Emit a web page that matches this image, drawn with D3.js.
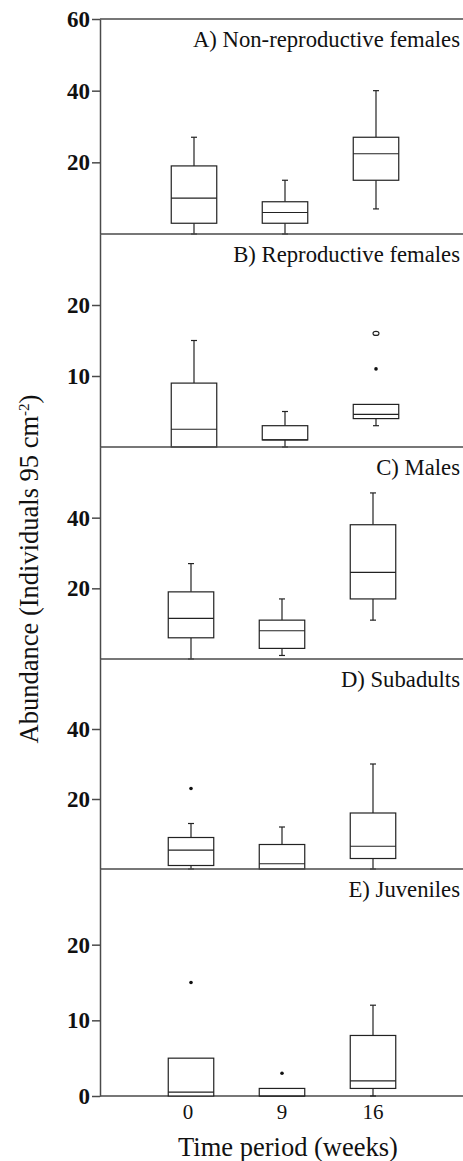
<!DOCTYPE html>
<html>
<head>
<meta charset="utf-8">
<script src="https://cdn.jsdelivr.net/npm/d3@7"></script>
<style>
  html, body { margin: 0; padding: 0; background: #fff; }
  svg { display: block; font-family: "Liberation Serif", "Times New Roman", serif; }
</style>
</head>
<body>
<svg id="chart" width="463" height="1161"></svg>
<script>
// ---------- DATA ----------
const categories = ["0", "9", "16"];
const panelTitles = [
  "A) Non-reproductive females",
  "B) Reproductive females",
  "C) Males",
  "D) Subadults",
  "E) Juveniles"
];
// five-number summaries per time period: [lower whisker, Q1, median, Q3, upper whisker]
const nonReproductiveFemales = [[0, 3, 10, 19, 27], [0, 3, 6, 9, 15], [7, 15, 22.4, 27, 40]];
const reproductiveFemales    = [[0, 0, 2.5, 9, 15], [0, 1, 1, 3, 5], [3, 4, 4.6, 6, 6]];
const males                  = [[0, 6, 11.5, 19, 27], [1, 3, 8, 11, 17], [11, 17, 24.5, 38, 47]];
const subadults              = [[0, 1, 5.4, 9, 13], [0, 0, 1.5, 7, 12], [0, 3, 6.5, 16, 30]];
const juveniles              = [[0, 0, 0.5, 5, 5], [0, 0, 0, 1, 1], [0, 1, 2, 8, 12]];
// outliers: [category, value, type]  (filled = extreme, open = outlier)
const outliersB = [["16", 16, "open"], ["16", 11, "filled"]];
const outliersD = [["0", 23, "filled"]];
const outliersE = [["0", 15, "filled"], ["9", 3, "filled"]];
// y domains and tick labels
const yMax = [60, 30, 60, 60, 30];
const yTicks = [[20, 40, 60], [10, 20], [20, 40], [20, 40], [0, 10, 20]];

const panelData = [nonReproductiveFemales, reproductiveFemales, males, subadults, juveniles];
const panelOutliers = [[], outliersB, [], outliersD, outliersE];

// ---------- LAYOUT ----------
const svg = d3.select("#chart");
const axisX = 100, rightX = 464;
const panelTops = [19, 234, 447, 659, 869];
const panelBottoms = [234, 447, 659, 869, 1096];
const panelShift = [3, 3, 0, 0, 0];
const axisColor = "#4a4a4a";
const boxColor = "#222";

panelData.forEach((data, i) => {
  const g = svg.append("g");
  const x = d3.scalePoint().domain(categories).range([axisX + panelShift[i], rightX + panelShift[i]]).padding(1);
  const y = d3.scaleLinear().domain([0, yMax[i]]).range([panelBottoms[i], panelTops[i]]);
  const bw = x.step() * 0.5;
  const cap = 6;

  // top border line
  g.append("line")
    .attr("x1", axisX).attr("x2", rightX)
    .attr("y1", y(yMax[i])).attr("y2", y(yMax[i]))
    .attr("stroke", axisColor).attr("stroke-width", 1.5);
  if (i === panelData.length - 1) {
    g.append("line")
      .attr("x1", axisX).attr("x2", rightX)
      .attr("y1", y(0)).attr("y2", y(0))
      .attr("stroke", axisColor).attr("stroke-width", 1.5);
  }

  // y axis
  const ax = g.append("g")
    .attr("transform", `translate(${axisX},0)`)
    .call(d3.axisLeft(y).tickValues(yTicks[i]).tickSize(8).tickSizeOuter(0).tickPadding(2).tickFormat(d3.format("d")));
  ax.attr("font-family", null);
  ax.select(".domain").attr("stroke", axisColor).attr("stroke-width", 1.5);
  ax.selectAll(".tick line").attr("stroke", axisColor).attr("stroke-width", 1.5);
  ax.selectAll(".tick text")
    .attr("fill", "#111")
    .style("font-size", "23px")
    .style("font-weight", "bold")
    .style("font-family", "'Liberation Serif', serif");

  // boxes
  categories.forEach((c, j) => {
    const [lo, q1, med, q3, hi] = data[j];
    const cx = x(c);
    const bg = g.append("g").attr("stroke", boxColor).attr("stroke-width", 1.2).attr("fill", "none");
    if (hi > q3) {
      bg.append("line").attr("x1", cx).attr("x2", cx).attr("y1", y(q3)).attr("y2", y(hi));
      bg.append("line").attr("x1", cx - cap / 2).attr("x2", cx + cap / 2).attr("y1", y(hi)).attr("y2", y(hi));
    }
    if (lo < q1) {
      bg.append("line").attr("x1", cx).attr("x2", cx).attr("y1", y(q1)).attr("y2", y(lo));
      bg.append("line").attr("x1", cx - cap / 2).attr("x2", cx + cap / 2).attr("y1", y(lo)).attr("y2", y(lo));
    }
    bg.append("rect")
      .attr("x", cx - bw / 2).attr("width", bw)
      .attr("y", y(q3)).attr("height", y(q1) - y(q3))
      .attr("fill", "#fff");
    bg.append("line").attr("x1", cx - bw / 2).attr("x2", cx + bw / 2).attr("y1", y(med)).attr("y2", y(med));
  });

  // outliers
  panelOutliers[i].forEach(([c, v, type]) => {
    if (type === "open") {
      g.append("ellipse").attr("cx", x(c)).attr("cy", y(v)).attr("rx", 3).attr("ry", 2)
        .attr("fill", "none").attr("stroke", boxColor).attr("stroke-width", 1.1);
    } else {
      g.append("circle").attr("cx", x(c)).attr("cy", y(v)).attr("r", 1.8).attr("fill", "#111");
    }
  });

  // panel title
  g.append("text")
    .attr("x", 460).attr("y", panelTops[i] + 28)
    .attr("text-anchor", "end")
    .style("font-size", "22.7px")
    .attr("fill", "#111")
    .text(panelTitles[i]);

  // x tick labels on the bottom panel
  if (i === panelData.length - 1) {
    g.selectAll(".xlab").data(categories).enter().append("text")
      .attr("x", d => x(d) - (d === "0" ? 3 : 0))
      .attr("y", 1119)
      .attr("text-anchor", "middle")
      .style("font-size", "21px")
      .attr("fill", "#111")
      .text(d => d);
  }
});

// axis titles
svg.append("text")
  .attr("x", 288).attr("y", 1156)
  .attr("text-anchor", "middle")
  .style("font-size", "26.5px")
  .attr("fill", "#111")
  .text("Time period (weeks)");

const yl = svg.append("text")
  .attr("transform", "translate(38,569) rotate(-90)")
  .attr("text-anchor", "middle")
  .style("font-size", "26.5px")
  .attr("fill", "#111");
yl.append("tspan").text("Abundance (Individuals 95 cm");
yl.append("tspan").attr("dy", -9).style("font-size", "15px").text("-2");
yl.append("tspan").attr("dy", 9).text(")");
</script>
</body>
</html>
